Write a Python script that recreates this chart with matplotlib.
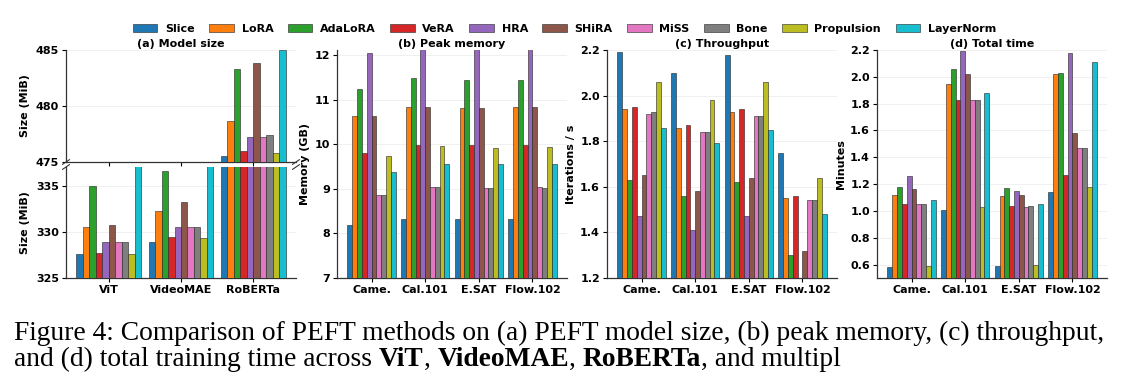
import matplotlib
matplotlib.use("Agg")
import matplotlib.pyplot as plt
import numpy as np

methods = ["Slice", "LoRA", "AdaLoRA", "VeRA", "HRA", "SHiRA", "MiSS", "Bone", "Propulsion", "LayerNorm"]
colors = ["#1f77b4", "#ff7f0e", "#2ca02c", "#d62728", "#9467bd", "#8c564b",
          "#e377c2", "#7f7f7f", "#bcbd22", "#17becf"]

models = ["ViT", "VideoMAE", "RoBERTa"]
datasets = ["Came.", "Cal.101", "E.SAT", "Flow.102"]

# (a) model size (MiB), rows = methods, cols = models
size_slice = [327.6, 328.9, 475.5]
size_lora = [330.5, 332.2, 478.7]
size_adalora = [335.0, 336.6, 483.3]
size_vera = [327.75, 329.4, 476.0]
size_hra = [328.9, 330.5, 477.2]
size_shira = [330.7, 333.2, 483.8]
size_miss = [328.9, 330.5, 477.2]
size_bone = [328.9, 330.5, 477.4]
size_prop = [327.6, 329.3, 475.8]
size_ln = [343.0, 343.0, 485.0]

# (b) peak memory (GB)
mem_slice = [8.18, 8.33, 8.32, 8.33]
mem_lora = [10.64, 10.83, 10.81, 10.83]
mem_adalora = [11.25, 11.48, 11.44, 11.44]
mem_vera = [9.80, 9.99, 9.99, 9.99]
mem_hra = [12.06, 12.4, 12.4, 12.4]
mem_shira = [10.64, 10.83, 10.81, 10.83]
mem_miss = [8.87, 9.05, 9.03, 9.05]
mem_bone = [8.87, 9.05, 9.03, 9.03]
mem_prop = [9.75, 9.96, 9.93, 9.95]
mem_ln = [9.39, 9.57, 9.55, 9.55]

# (c) throughput (iterations / s)
thr_slice = [2.19, 2.10, 2.18, 1.75]
thr_lora = [1.94, 1.86, 1.93, 1.55]
thr_adalora = [1.63, 1.56, 1.62, 1.30]
thr_vera = [1.95, 1.87, 1.94, 1.56]
thr_hra = [1.47, 1.41, 1.47, 1.10]
thr_shira = [1.65, 1.58, 1.64, 1.32]
thr_miss = [1.92, 1.84, 1.91, 1.54]
thr_bone = [1.93, 1.84, 1.91, 1.54]
thr_prop = [2.06, 1.98, 2.06, 1.64]
thr_ln = [1.86, 1.79, 1.85, 1.48]

# (d) total time (minutes)
time_slice = [0.58, 1.01, 0.59, 1.14]
time_lora = [1.12, 1.95, 1.11, 2.02]
time_adalora = [1.18, 2.06, 1.17, 2.03]
time_vera = [1.05, 1.83, 1.04, 1.27]
time_hra = [1.26, 2.19, 1.15, 2.18]
time_shira = [1.16, 2.02, 1.12, 1.58]
time_miss = [1.05, 1.83, 1.03, 1.47]
time_bone = [1.05, 1.83, 1.04, 1.47]
time_prop = [0.59, 1.03, 0.60, 1.18]
time_ln = [1.08, 1.88, 1.05, 2.11]

size_data = [size_slice, size_lora, size_adalora, size_vera, size_hra, size_shira,
             size_miss, size_bone, size_prop, size_ln]
mem_data = [mem_slice, mem_lora, mem_adalora, mem_vera, mem_hra, mem_shira,
            mem_miss, mem_bone, mem_prop, mem_ln]
thr_data = [thr_slice, thr_lora, thr_adalora, thr_vera, thr_hra, thr_shira,
            thr_miss, thr_bone, thr_prop, thr_ln]
time_data = [time_slice, time_lora, time_adalora, time_vera, time_hra, time_shira,
             time_miss, time_bone, time_prop, time_ln]

plt.rcParams['font.family'] = ['DejaVu Sans']
plt.rcParams['font.weight'] = 'bold'
plt.rcParams['font.size'] = 8

W, H = 1129, 384
fig = plt.figure(figsize=(W / 100, H / 100), dpi=100)

bw = 0.09
n = len(methods)


def px_axes(x0, y0, x1, y1):
    return fig.add_axes([x0 / W, 1 - y1 / H, (x1 - x0) / W, (y1 - y0) / H])


def draw_bars(ax, data, ncat):
    x = np.arange(ncat)
    handles = []
    for i, (vals, c) in enumerate(zip(data, colors)):
        h = ax.bar(x + (i - (n - 1) / 2) * bw, vals, bw, color=c,
                   edgecolor='#222222', linewidth=0.4, label=methods[i], zorder=3)
        handles.append(h)
    return handles


def style(ax):
    for s in ['top', 'right']:
        ax.spines[s].set_visible(False)
    for s in ['left', 'bottom']:
        ax.spines[s].set_linewidth(0.9)
        ax.spines[s].set_color('#333333')
    ax.yaxis.grid(True, color='#eeeeee', linewidth=0.6, zorder=0)
    ax.set_axisbelow(True)
    ax.tick_params(axis='both', labelsize=8, length=3, width=0.8, pad=2)
    for lab in ax.get_xticklabels() + ax.get_yticklabels():
        lab.set_fontweight('bold')


lefts = [66, 337, 607, 877]
top, bottom = 50, 278

# (a) broken axis
ax_up = px_axes(lefts[0], top, lefts[0] + 230, 162)
ax_lo = px_axes(lefts[0], 167, lefts[0] + 230, bottom)
handles = draw_bars(ax_up, size_data, 3)
draw_bars(ax_lo, size_data, 3)
ax_up.set_ylim(475, 485)
ax_lo.set_ylim(325, 337)
ax_up.set_yticks([475, 480, 485])
ax_lo.set_yticks([325, 330, 335])
for ax in (ax_up, ax_lo):
    ax.set_xticks(np.arange(3))
    style(ax)
ax_up.set_xticklabels([])
ax_lo.set_xticklabels(models)
ax_lo.spines['top'].set_visible(False)
ax_up.set_ylabel("Size (MiB)", fontweight='bold', labelpad=4)
ax_lo.set_ylabel("Size (MiB)", fontweight='bold', labelpad=4)
ax_up.set_title("(a) Model size", fontweight='bold', fontsize=8, pad=2)
# break marks
kw = dict(transform=fig.transFigure, color='#333333', lw=0.8, clip_on=False)
for xx in (lefts[0], lefts[0] + 230):
    xf = xx / W
    for yy in (162, 167):
        yf = 1 - yy / H
        fig.add_artist(plt.Line2D([xf - 0.003, xf + 0.003], [yf - 0.006, yf + 0.006], **kw))

panels = [
    (mem_data, "Memory (GB)", "(b) Peak memory", (7, 12.12), [7, 8, 9, 10, 11, 12], None),
    (thr_data, "Iterations / s", "(c) Throughput", (1.2, 2.2), [1.2, 1.4, 1.6, 1.8, 2.0, 2.2], "%.1f"),
    (time_data, "Minutes", "(d) Total time", (0.5, 2.2), [0.6, 0.8, 1.0, 1.2, 1.4, 1.6, 1.8, 2.0, 2.2], "%.1f"),
]
for k, (data, ylab, title, ylim, yt, fmt) in enumerate(panels):
    ax = px_axes(lefts[k + 1], top, lefts[k + 1] + 230, bottom)
    draw_bars(ax, data, 4)
    ax.set_ylim(*ylim)
    ax.set_yticks(yt)
    if fmt:
        ax.set_yticklabels([fmt % v for v in yt])
    ax.set_xticks(np.arange(4))
    ax.set_xticklabels(datasets)
    style(ax)
    ax.set_ylabel(ylab, fontweight='bold', labelpad=3)
    ax.set_title(title, fontweight='bold', fontsize=8, pad=2)

fig.legend(handles, methods, loc='center', bbox_to_anchor=(0.5, 1 - 29 / H), ncol=10,
           frameon=False, fontsize=8, handlelength=2.2, handleheight=0.7,
           handletextpad=0.7, columnspacing=1.3, prop={'weight': 'bold', 'size': 8})

# caption
cap_font = 'Liberation Serif'
cap_size = 19.8
x0 = 14
line1 = "Figure 4: Comparison of PEFT methods on (a) PEFT model size, (b) peak memory, (c) throughput,"
fig.text(x0 / W, 1 - 340 / H, line1, family=cap_font, fontsize=cap_size,
         fontweight='normal', ha='left', va='baseline')
pieces = [("and (d) total training time across ", 'normal'), ("ViT", 'bold'), (", ", 'normal'),
          ("VideoMAE", 'bold'), (", ", 'normal'), ("RoBERTa", 'bold'), (", and multipl", 'normal')]
fig.canvas.draw()
renderer = fig.canvas.get_renderer()
xcur = x0
for txt, wt in pieces:
    t = fig.text(xcur / W, 1 - 366 / H, txt, family=cap_font, fontsize=cap_size,
                 fontweight=wt, ha='left', va='baseline')
    bb = t.get_window_extent(renderer)
    xcur += bb.width

fig.savefig("out.png", dpi=100)
